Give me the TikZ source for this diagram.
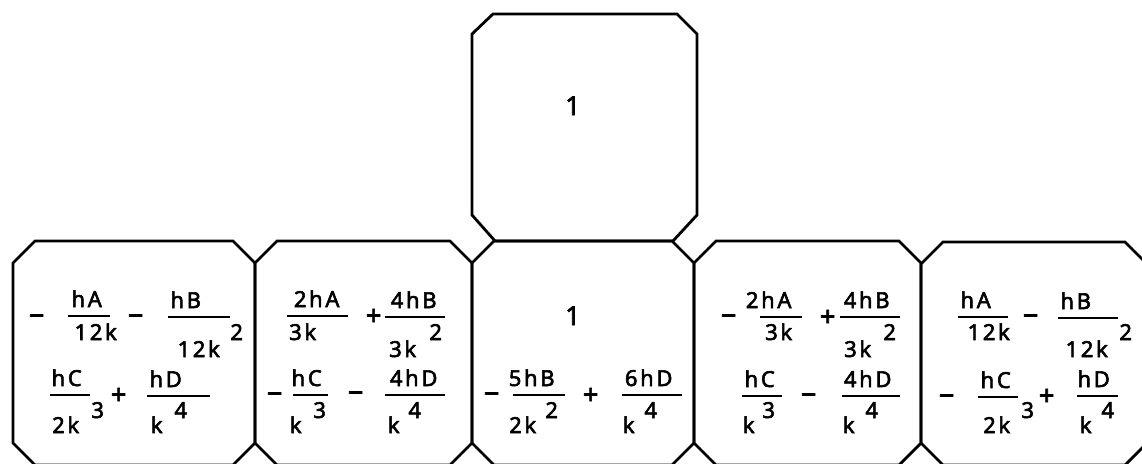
\documentclass[tikz,border=0pt]{standalone}
\usepackage{fontspec}
\newfontfamily\lettering{Noto Sans}[LetterSpace=12,FakeBold=2.5]
\tikzset{
  panel/.style={draw=black, line width=2.8pt, line join=miter},
  tx/.style={anchor=base, inner sep=0pt, xshift=-1.3pt,
    font=\lettering\fontsize{22}{26}\selectfont},
  big/.style={tx, font=\lettering\fontsize{26}{30}\selectfont},
  sign/.style={tx, yshift=-8pt, font=\lettering\fontsize{27}{30}\selectfont},
  bar/.style={draw=black, line width=2.8pt},
}
% fraction: name, numerator x, numerator, bar left, bar right, bar y,
% denominator x, denominator, denominator baseline
\newcommand\frc[9]{%
  \node[tx] (#1n) at (#2,#6-9) {#3};
  \coordinate (#1l) at (#4,#6);
  \coordinate (#1r) at (#5,#6);
  \draw[bar] (#1l) -- (#1r);
  \node[tx] (#1d) at (#7,#9) {#8};}
% chamfered panel: left x, right x, top y, bottom y, chamfer
\newcommand\panel[5]{%
  \draw[panel] (#1+#5,#3) -- (#2-#5,#3) -- (#2,#3+#5) -- (#2,#4-#5)
    -- (#2-#5,#4) -- (#1+#5,#4) -- (#1,#4-#5) -- (#1,#3+#5) -- cycle;}
\begin{document}
\begin{tikzpicture}[x=1pt,y=-1pt]
\useasboundingbox (0,0) rectangle (1142,463);
\fill[white] (0,0) rectangle (1142,463);

% panels
\draw[panel] (493,14) -- (677,14) -- (697,34) -- (697,215) -- (673,241)
  -- (495,241) -- (472,215) -- (472,34) -- cycle;
\panel{13}{255}{241}{465}{22}
\panel{255}{472}{241}{465}{22}
\panel{472}{694}{241}{465}{22}
\panel{694}{921}{241}{465}{22}
\panel{921}{1147}{242}{465}{22}

% top panel
\node[big] (top) at (574,115) {1};

% panel 1
\node[sign] (p1m1) at (38,317) {−};
\frc{p1a}{88}{hA}{68}{110}{316}{97}{12k}{340}
\node[sign] (p1m2) at (137,317) {−};
\frc{p1b}{187}{hB}{168}{230}{317}{200}{12k}{357}
\node[tx] (p1e1) at (238,340) {2};
\frc{p1c}{68}{hC}{50}{90}{395}{67}{2k}{433}
\node[tx] (p1e2) at (99,418) {3};
\node[sign] (p1p) at (120,396) {+};
\frc{p1d}{167}{hD}{147}{210}{396}{158}{k}{433}
\node[tx] (p1e3) at (182,418) {4};

% panel 2
\frc{p2a}{318}{2hA}{287}{348}{316}{304}{3k}{340}
\node[sign] (p2p) at (375,317) {+};
\frc{p2b}{415}{4hB}{385}{445}{317}{404}{3k}{357}
\node[tx] (p2e1) at (437,340) {2};
\node[sign] (p2m1) at (276,395) {−};
\frc{p2c}{308}{hC}{293}{328}{395}{297}{k}{433}
\node[tx] (p2e2) at (321,418) {3};
\node[sign] (p2m2) at (357,394) {−};
\frc{p2d}{415}{4hD}{385}{445}{395}{395}{k}{433}
\node[tx] (p2e3) at (416,418) {4};

% panel 3
\node[big] (p3one) at (574,325) {1};
\node[sign] (p3m) at (493,395) {−};
\frc{p3a}{533}{5hB}{513}{565}{395}{524}{2k}{433}
\node[tx] (p3e1) at (553,418) {2};
\node[sign] (p3p) at (592,396) {+};
\frc{p3b}{650}{6hD}{622}{682}{395}{630}{k}{433}
\node[tx] (p3e2) at (652,418) {4};

% panel 4
\node[sign] (p4m1) at (730,317) {−};
\frc{p4a}{770}{2hA}{760}{802}{317}{780}{3k}{340}
\node[sign] (p4p) at (829,318) {+};
\frc{p4b}{868}{4hB}{840}{900}{317}{859}{3k}{357}
\node[tx] (p4e1) at (891,340) {2};
\frc{p4c}{761}{hC}{742}{782}{396}{750}{k}{433}
\node[tx] (p4e2) at (770,418) {3};
\node[sign] (p4m2) at (810,396) {−};
\frc{p4d}{869}{4hD}{842}{900}{396}{850}{k}{433}
\node[tx] (p4e3) at (873,418) {4};

% panel 5
\frc{p5a}{977}{hA}{958}{1008}{317}{990}{12k}{340}
\node[sign] (p5m1) at (1032,317) {−};
\frc{p5b}{1077}{hB}{1058}{1118}{318}{1088}{12k}{357}
\node[tx] (p5e1) at (1127,340) {2};
\node[sign] (p5m2) at (948,397) {−};
\frc{p5c}{997}{hC}{978}{1018}{397}{998}{2k}{433}
\node[tx] (p5e2) at (1029,418) {3};
\node[sign] (p5p) at (1048,397) {+};
\frc{p5d}{1095}{hD}{1077}{1118}{396}{1087}{k}{433}
\node[tx] (p5e3) at (1109,418) {4};
\end{tikzpicture}
\end{document}
